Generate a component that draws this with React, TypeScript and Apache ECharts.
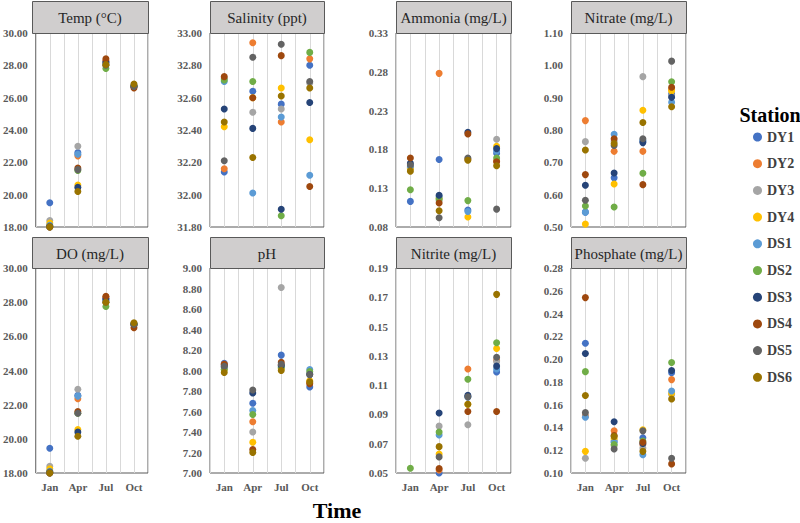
import React, { useEffect, useRef } from "react";
import * as echarts from "echarts";

const stations = ["DY1", "DY2", "DY3", "DY4", "DS1", "DS2", "DS3", "DS4", "DS5", "DS6"];
const stationColors = ["#4472C4", "#ED7D31", "#A5A5A5", "#FFC000", "#5B9BD5", "#70AD47", "#264478", "#9E480E", "#636363", "#997300"];
const months = ["Jan", "Apr", "Jul", "Oct"];

// rows = stations (DY1..DS6), columns = Jan, Apr, Jul, Oct
const temp = [
  [19.5, 22.6, 28.2, 26.7],
  [18.1, 22.4, 28.3, 26.7],
  [18.4, 23.0, 28.1, 26.75],
  [18.25, 20.6, 28.0, 26.7],
  [18.1, 22.5, 28.1, 26.7],
  [18.05, 21.5, 27.8, 26.7],
  [18.0, 20.45, 28.2, 26.7],
  [18.0, 21.65, 28.4, 26.6],
  [18.05, 21.55, 28.0, 26.7],
  [18.0, 20.2, 28.05, 26.85],
];
const salinity = [
  [32.14, 32.64, 32.56, 32.8],
  [32.16, 32.94, 32.45, 32.84],
  [32.72, 32.51, 32.53, 32.69],
  [32.42, 32.6, 32.66, 32.34],
  [32.7, 32.01, 32.48, 32.12],
  [32.71, 32.7, 31.87, 32.88],
  [32.53, 32.41, 31.91, 32.57],
  [32.73, 32.6, 32.86, 32.05],
  [32.21, 32.85, 32.93, 32.7],
  [32.45, 32.23, 32.61, 32.66],
];
const ammonia = [
  [0.113, 0.167, 0.102, 0.175],
  [0.156, 0.278, 0.167, 0.165],
  [0.157, 0.114, 0.168, 0.193],
  [0.155, 0.117, 0.093, 0.184],
  [0.158, 0.119, 0.1, 0.178],
  [0.128, 0.116, 0.114, 0.169],
  [0.162, 0.121, 0.202, 0.181],
  [0.169, 0.111, 0.2, 0.164],
  [0.16, 0.092, 0.169, 0.103],
  [0.152, 0.101, 0.166, 0.159],
];
const nitrate = [
  [0.546, 0.652, 0.765, 0.911],
  [0.829, 0.734, 0.734, 0.925],
  [0.764, 0.765, 0.965, 0.905],
  [0.509, 0.633, 0.861, 0.921],
  [0.546, 0.787, 0.768, 0.886],
  [0.565, 0.562, 0.666, 0.949],
  [0.629, 0.667, 0.761, 0.901],
  [0.662, 0.773, 0.631, 0.932],
  [0.583, 0.752, 0.773, 1.013],
  [0.738, 0.758, 0.823, 0.872],
];
const dissolvedOxygen = [
  [19.45, 22.55, 28.2, 26.7],
  [18.1, 22.35, 28.3, 26.7],
  [18.4, 22.9, 28.1, 26.75],
  [18.25, 20.55, 28.0, 26.7],
  [18.1, 22.5, 28.1, 26.7],
  [18.05, 21.5, 27.75, 26.7],
  [18.0, 20.4, 28.2, 26.7],
  [18.0, 21.6, 28.35, 26.5],
  [18.05, 21.5, 28.0, 26.7],
  [18.0, 20.15, 28.0, 26.8],
];
const ph = [
  [8.07, 7.68, 8.15, 7.84],
  [8.06, 7.5, 8.05, 7.88],
  [8.04, 7.4, 8.81, 7.97],
  [8.01, 7.3, 8.02, 7.9],
  [8.03, 7.61, 8.04, 8.01],
  [8.01, 7.57, 8.03, 7.99],
  [8.05, 7.78, 8.05, 7.96],
  [8.06, 7.23, 8.08, 7.87],
  [8.04, 7.81, 8.06, 7.96],
  [7.98, 7.2, 8.0, 7.89],
];
const nitrite = [
  [null, 0.05, 0.102, 0.119],
  [null, 0.052, 0.121, 0.127],
  [null, 0.082, 0.083, 0.126],
  [null, 0.063, 0.097, 0.135],
  [null, 0.076, 0.102, 0.121],
  [0.0532, 0.078, 0.114, 0.139],
  [null, 0.091, 0.103, 0.123],
  [null, 0.053, 0.092, 0.092],
  [null, 0.061, 0.102, 0.129],
  [null, 0.068, 0.097, 0.172],
];
const phosphate = [
  [0.214, 0.128, 0.131, 0.188],
  [0.15, 0.137, 0.125, 0.182],
  [0.113, 0.124, 0.122, 0.169],
  [0.119, 0.13, 0.138, 0.17],
  [0.149, 0.127, 0.116, 0.172],
  [0.189, 0.125, 0.128, 0.197],
  [0.205, 0.145, 0.126, 0.19],
  [0.254, 0.133, 0.127, 0.108],
  [0.153, 0.121, 0.137, 0.113],
  [0.168, 0.132, 0.119, 0.165],
];

const panelTitles = ["Temp (°C)", "Salinity (ppt)", "Ammonia (mg/L)", "Nitrate (mg/L)", "DO (mg/L)", "pH", "Nitrite (mg/L)", "Phosphate (mg/L)"];
const panelData = [temp, salinity, ammonia, nitrate, dissolvedOxygen, ph, nitrite, phosphate];
const yMin = [18, 31.8, 0.08, 0.5, 18, 7, 0.05, 0.1];
const yMax = [30, 33, 0.33, 1.1, 30, 9, 0.19, 0.28];
const yStep = [2, 0.2, 0.05, 0.1, 2, 0.2, 0.02, 0.02];

const SERIF = "Liberation Serif";
const colLeft = [32, 210, 396, 571];
const colWidth = [116, 114, 115, 115];
const rowTop = [33, 268];
const rowHeight = [194, 205];
const boxTop = [1, 237];

export default function App() {
  const ref = useRef<HTMLDivElement>(null);
  useEffect(() => {
    if (!ref.current) return;
    const chart = echarts.init(ref.current, null, { renderer: "svg" });
    const grids: any[] = [];
    const xAxes: any[] = [];
    const yAxes: any[] = [];
    const series: any[] = [];
    const graphics: any[] = [];
    panelTitles.forEach((title, g) => {
      const r = Math.floor(g / 4);
      const c = g % 4;
      grids.push({
        left: colLeft[c],
        top: rowTop[r],
        width: colWidth[c],
        height: rowHeight[r],
        show: true,
        borderColor: "#595959",
        borderWidth: 1,
        backgroundColor: "#ffffff",
      });
      xAxes.push({
        type: "value",
        gridIndex: g,
        min: 0.5,
        max: 4.5,
        interval: 0.5,
        axisLine: { show: false },
        axisTick: { show: false },
        splitLine: { show: true, lineStyle: { color: "#d9d9d9", width: 1 } },
        axisLabel: {
          show: r === 1,
          margin: 8,
          fontFamily: SERIF,
          fontWeight: "bold",
          fontSize: 11,
          color: "#595959",
          formatter: (v: number) => (Number.isInteger(v) && v >= 1 && v <= 4 ? months[v - 1] : ""),
        },
      });
      yAxes.push({
        type: "value",
        gridIndex: g,
        min: yMin[g],
        max: yMax[g],
        interval: yStep[g],
        axisLine: { show: false },
        axisTick: { show: false },
        splitLine: { show: false },
        axisLabel: {
          margin: 8,
          fontFamily: SERIF,
          fontWeight: "bold",
          fontSize: 11,
          color: "#595959",
          formatter: (v: number) => v.toFixed(2),
        },
      });
      stations.forEach((st, s) => {
        series.push({
          type: "scatter",
          name: st,
          xAxisIndex: g,
          yAxisIndex: g,
          symbolSize: 7,
          clip: true,
          itemStyle: { color: stationColors[s], opacity: 1 },
          data: months.map((m, i) => [i + 1, panelData[g][s][i]]).filter((d) => d[1] !== null),
        });
      });
      graphics.push({
        type: "rect",
        left: colLeft[c],
        top: boxTop[r],
        shape: { width: colWidth[c], height: rowTop[r] - boxTop[r] },
        style: { fill: "#d0cece", stroke: "#595959", lineWidth: 1 },
        z: 10,
      });
      graphics.push({
        type: "text",
        x: colLeft[c] + colWidth[c] / 2,
        y: (boxTop[r] + rowTop[r]) / 2 + 1,
        style: {
          text: title,
          fontFamily: SERIF,
          fontSize: 15,
          fill: "#262626",
          textAlign: "center",
          textVerticalAlign: "middle",
        },
        z: 11,
      });
    });
    graphics.push({
      type: "text",
      x: 770,
      y: 115,
      style: {
        text: "Station",
        fontFamily: SERIF,
        fontWeight: "bold",
        fontSize: 20,
        fill: "#000000",
        textAlign: "center",
        textVerticalAlign: "middle",
      },
    });
    graphics.push({
      type: "text",
      x: 337,
      y: 510,
      style: {
        text: "Time",
        fontFamily: SERIF,
        fontWeight: "bold",
        fontSize: 22,
        fill: "#000000",
        textAlign: "center",
        textVerticalAlign: "middle",
      },
    });
    chart.setOption({
      animation: false,
      backgroundColor: "#ffffff",
      grid: grids,
      xAxis: xAxes,
      yAxis: yAxes,
      series,
      graphic: graphics,
      legend: {
        data: stations,
        orient: "vertical",
        left: 748,
        top: 125,
        icon: "circle",
        itemWidth: 9,
        itemHeight: 9,
        itemGap: 12.7,
        textStyle: { fontFamily: SERIF, fontWeight: "bold", fontSize: 14, color: "#404040" },
      },
    });
    return () => chart.dispose();
  }, []);
  return (
    <div
      ref={ref}
      style={{ position: "fixed", left: 0, top: 0, width: 800, height: 523, background: "#fff" }}
    />
  );
}
